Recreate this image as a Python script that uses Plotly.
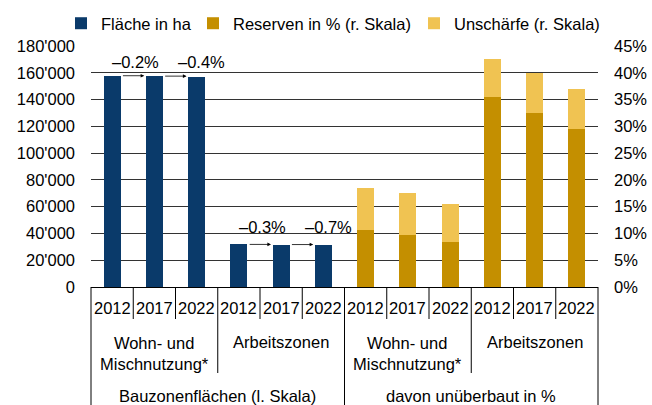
import plotly.graph_objects as go

# ---------------- data ----------------
years = ["2012", "2017", "2022"]
groups = ["Wohn- und<br>Mischnutzung*", "Arbeitszonen"]
sections = ["Bauzonenflächen (l. Skala)", "davon unüberbaut in %"]

flaeche_wohn = [157800, 157500, 156900]
flaeche_arbeit = [31800, 31700, 31480]

reserven_wohn = [10.6, 9.7, 8.4]
reserven_arbeit = [35.4, 32.5, 29.5]
unschaerfe_wohn = [7.8, 7.9, 7.1]
unschaerfe_arbeit = [7.1, 7.5, 7.5]

change_wohn = ["–0.2%", "–0.4%"]
change_arbeit = ["–0.3%", "–0.7%"]

left_ticks = list(range(0, 180001, 20000))
right_ticks = list(range(0, 46, 5))
left_labels = [f"{v:,}".replace(",", "'") for v in left_ticks]
right_labels = [f"{v}%" for v in right_ticks]

# ---------------- styling ----------------
NAVY = "#0A3A6A"
GOLD = "#C48F00"
LIGHT = "#F0C352"
FONT = "Liberation Sans, Arial, sans-serif"
FS = 16.5
BW = 0.4
TXT = dict(size=FS, color="#000", family=FONT)
W, H = 652, 405

n_per_group = len(years)
n_cat = n_per_group * 4
xs = list(range(n_cat))
x_fl_w = xs[0:3]
x_fl_a = xs[3:6]
x_pc_w = xs[6:9]
x_pc_a = xs[9:12]

fig = go.Figure()
fig.add_bar(x=x_fl_w + x_fl_a, y=flaeche_wohn + flaeche_arbeit, width=BW,
            marker_color=NAVY, marker_line_width=0, name="Fläche in ha",
            yaxis="y", legend="legend", showlegend=True)
fig.add_bar(x=x_pc_w + x_pc_a, y=reserven_wohn + reserven_arbeit, width=BW,
            marker_color=GOLD, marker_line_width=0, name="Reserven in % (r. Skala)",
            yaxis="y2", legend="legend2", showlegend=True)
fig.add_bar(x=x_pc_w + x_pc_a, y=unschaerfe_wohn + unschaerfe_arbeit, width=BW,
            marker_color=LIGHT, marker_line_width=0, name="Unschärfe (r. Skala)",
            yaxis="y2", legend="legend3", showlegend=True)

annotations = []
for xg, vals, labels, ylab in [(x_fl_w, flaeche_wohn, change_wohn, 168000),
                               (x_fl_a, flaeche_arbeit, change_arbeit, 44900)]:
    for k in range(2):
        annotations.append(dict(
            x=xg[k] + 0.76, y=vals[k], ax=xg[k] + 0.22, ay=vals[k],
            xref="x", yref="y", axref="x", ayref="y", text="",
            showarrow=True, arrowhead=2, arrowsize=0.9, arrowwidth=0.8,
            arrowcolor="#000"))
    annotations.append(dict(x=xg[0] + 0.56, y=ylab, xref="x", yref="y", text=labels[0],
                            showarrow=False, font=TXT))
    annotations.append(dict(x=xg[1] + 1.12, y=ylab, xref="x", yref="y", text=labels[1],
                            showarrow=False, font=TXT))

for i in xs:
    annotations.append(dict(x=i, y=0, xref="x", yref="paper", yanchor="middle",
                            yshift=-21, text=years[i % n_per_group], showarrow=False,
                            font=TXT))
for g in range(4):
    gx = g * n_per_group + 1
    label = groups[g % 2]
    annotations.append(dict(x=gx, y=0, xref="x", yref="paper", yanchor="middle",
                            yshift=-66 if "<br>" in label else -55, text=label,
                            showarrow=False, font=TXT))
for s in range(2):
    sx = s * 6 + 2.5
    annotations.append(dict(x=sx, y=0, xref="x", yref="paper", yanchor="middle",
                            yshift=-109, text=sections[s], showarrow=False, font=TXT))

plot_h = H - 46 - 118
shapes = []
for b in range(n_cat + 1):
    xp = b / n_cat
    if b % 6 == 0:
        depth = 125
    elif b % 3 == 0:
        depth = 86
    else:
        depth = 32
    shapes.append(dict(type="line", xref="paper", yref="paper", x0=xp, x1=xp,
                       y0=0, y1=-depth / plot_h, line=dict(color="#000", width=1)))

legend_common = dict(orientation="h", xref="container", yref="container",
                     xanchor="left", y=1 - 23.5 / H, yanchor="middle",
                     font=TXT, bgcolor="rgba(0,0,0,0)", borderwidth=0)

fig.update_layout(
    template="none",
    showlegend=True,
    width=W, height=H,
    margin=dict(l=91, r=54, t=46, b=118, pad=0, autoexpand=False),
    paper_bgcolor="white", plot_bgcolor="white",
    barmode="stack", bargap=0,
    font=dict(family=FONT, size=FS, color="#000"),
    xaxis=dict(range=[-0.5, n_cat - 0.5], showticklabels=False, ticks="",
               showgrid=False, zeroline=False, showline=True,
               linecolor="#000", linewidth=1, automargin=False),
    yaxis=dict(range=[0, 180000], tickmode="array", tickvals=left_ticks,
               ticktext=left_labels, automargin=False,
               showgrid=True, gridcolor="#333", gridwidth=1, zeroline=False,
               showline=False, ticks="", ticklabelstandoff=15, tickfont=TXT),
    yaxis2=dict(range=[0, 45], tickmode="array", tickvals=right_ticks,
                ticktext=right_labels, automargin=False,
                overlaying="y", side="right", showgrid=False, zeroline=False,
                showline=False, ticks="", ticklabelstandoff=15, tickfont=TXT),
    legend=dict(x=61 / W, **legend_common),
    legend2=dict(x=193 / W, **legend_common),
    legend3=dict(x=414 / W, **legend_common),
    annotations=annotations,
    shapes=shapes,
)

fig.write_html(
    "out.html",
    config={"displayModeBar": False},
    post_script="document.body.style.margin='0';document.body.style.overflow='hidden';",
)
